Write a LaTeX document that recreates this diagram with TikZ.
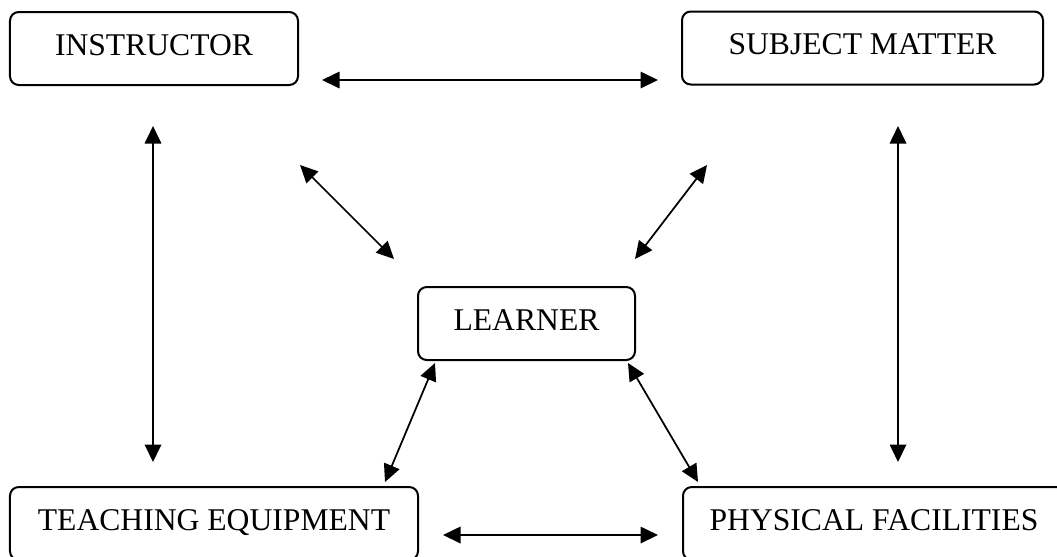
\documentclass[tikz,border=0pt]{standalone}
\usepackage{fontspec}
\setmainfont{Liberation Serif}
\usetikzlibrary{arrows.meta}
\begin{document}
\begin{tikzpicture}[x=0.4pt,y=-0.4pt]
			\tikzstyle{box}=[draw, line width=0.8pt, rounded corners=3.5pt, minimum height=29.2pt, text depth=3pt, font=\fontsize{12.65}{15}\selectfont]
			\tikzstyle{link}=[line width=0.7pt, {Triangle[length=7pt,width=6.6pt]}-{Triangle[length=7pt,width=6.6pt]}]
			\clip (0,0) rectangle (1057,556);
			\node[box, minimum width=115.2pt] (instructor) at (154,48.5) {INSTRUCTOR};
			\node[box, minimum width=144.4pt] (subject) at (862.5,48) {SUBJECT MATTER};
			\node[box, minimum width=86.8pt] (learner) at (526.5,323.5) {LEARNER};
			\node[box, minimum width=163.2pt] (equipment) at (214,523.5) {TEACHING EQUIPMENT};
			\node[box, minimum width=152.8pt] (facilities) at (874,523.5) {PHYSICAL FACILITIES};
			% free arrow ends
			\coordinate (topL) at (322,80);      \coordinate (topR) at (658,80);
			\coordinate (botL) at (443,535);     \coordinate (botR) at (658,535);
			\coordinate (leftT) at (153,126);    \coordinate (leftB) at (153,462);
			\coordinate (rightT) at (898,126);   \coordinate (rightB) at (898,462);
			\coordinate (ulA) at (300,165);      \coordinate (ulB) at (394,259);
			\coordinate (urA) at (707,165);      \coordinate (urB) at (635,259);
			\coordinate (llA) at (435,363);      \coordinate (llB) at (385,482);
			\coordinate (lrA) at (628,363);      \coordinate (lrB) at (698,482);
			\draw[link] (topL) -- (topR);
			\draw[link] (botL) -- (botR);
			\draw[link] (leftT) -- (leftB);
			\draw[link] (rightT) -- (rightB);
			\draw[link] (ulA) -- (ulB);
			\draw[link] (urA) -- (urB);
			\draw[link] (llA) -- (llB);
			\draw[link] (lrA) -- (lrB);
\end{tikzpicture}
\end{document}
